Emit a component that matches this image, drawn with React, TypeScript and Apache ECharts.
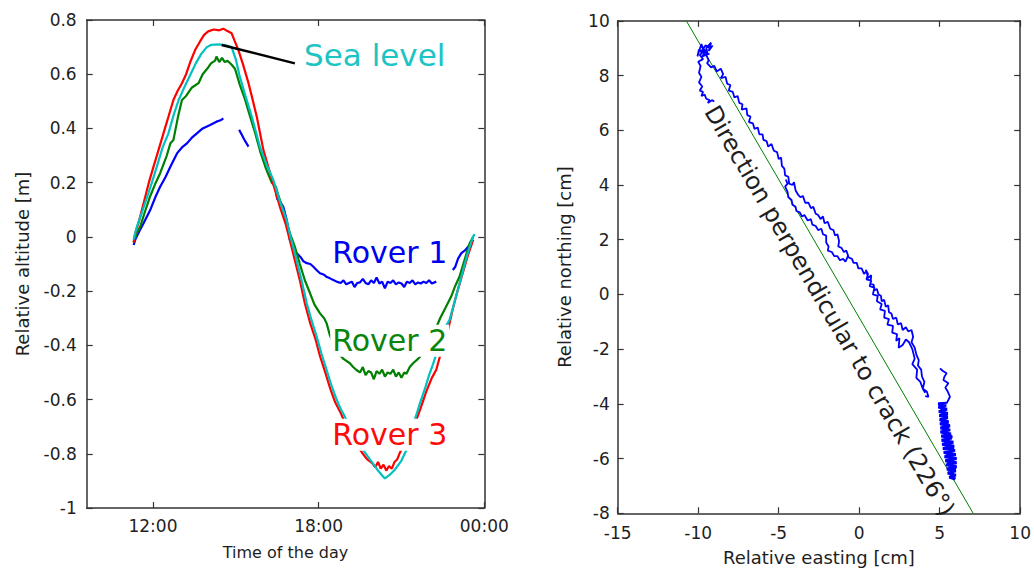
import React, { useEffect, useRef } from "react";
import * as echarts from "echarts";

// ---------- Left panel: relative altitude vs time of day (hours) ----------
const timeTicks = [12, 18, 24];
const altitudeRange = [-1, 0.8];

const seaLevel: (number[] | null)[] = [
  [11.3, -0.01], [11.42, 0.038], [11.6, 0.09], [11.8, 0.15], [11.96, 0.2], [12.14, 0.259], [12.35, 0.33],
  [12.56, 0.382], [12.75, 0.45], [12.93, 0.505], [13.15, 0.555], [13.35, 0.597], [13.55, 0.64], [13.75, 0.675],
  [13.95, 0.7], [14.1, 0.708], [14.4, 0.71], [14.67, 0.706], [14.85, 0.7], [15.0, 0.655], [15.13, 0.597],
  [15.35, 0.52], [15.58, 0.443], [15.88, 0.33], [16.1, 0.27], [16.36, 0.21], [16.6, 0.13], [16.84, 0.062],
  [16.98, 0.0], [17.14, -0.06], [17.38, -0.159], [17.57, -0.245], [17.75, -0.31], [17.93, -0.368], [18.1, -0.43],
  [18.29, -0.491], [18.47, -0.55], [18.65, -0.6], [18.8, -0.635], [18.95, -0.663], [19.2, -0.72], [19.4, -0.76],
  [19.61, -0.786], [19.85, -0.82], [20.1, -0.855], [20.3, -0.88], [20.4, -0.891], [20.55, -0.88], [20.75, -0.86],
  [21.0, -0.825], [21.18, -0.786], [21.33, -0.73], [21.48, -0.675], [21.65, -0.62], [21.85, -0.56], [22.0, -0.51],
  [22.14, -0.47], [22.4, -0.39], [22.6, -0.33], [22.74, -0.307], [22.95, -0.23], [23.17, -0.147], [23.4, -0.06],
  [23.59, 0.0], [23.65, 0.01],
];

const rover3: (number[] | null)[] = [
  [11.3, -0.02], [11.35, 0.01], [11.5, 0.06], [11.7, 0.14], [11.85, 0.2], [12.02, 0.259], [12.2, 0.32],
  [12.38, 0.382], [12.56, 0.443], [12.74, 0.505], [12.9, 0.54], [13.05, 0.567], [13.2, 0.6], [13.35, 0.645],
  [13.53, 0.69], [13.7, 0.72], [13.85, 0.745], [14.0, 0.758], [14.2, 0.765], [14.4, 0.762], [14.55, 0.768],
  [14.68, 0.76], [14.85, 0.751], [14.95, 0.725], [15.09, 0.69], [15.25, 0.64], [15.46, 0.567], [15.6, 0.51],
  [15.76, 0.443], [16.0, 0.32], [16.2, 0.25], [16.4, 0.18], [16.6, 0.11], [16.8, 0.05], [16.95, -0.01],
  [17.1, -0.07], [17.32, -0.16], [17.5, -0.245], [17.7, -0.32], [17.88, -0.375], [18.05, -0.44], [18.24, -0.5],
  [18.42, -0.56], [18.6, -0.61], [18.8, -0.65], [18.93, -0.68], [19.2, -0.73], [19.4, -0.77], [19.58, -0.797],
  [19.75, -0.82], [19.95, -0.835], [20.05, -0.85], [20.15, -0.83], [20.25, -0.855], [20.35, -0.84], [20.45, -0.862],
  [20.55, -0.845], [20.65, -0.855], [20.75, -0.83], [20.85, -0.82], [20.94, -0.797], [21.1, -0.76], [21.3, -0.72],
  [21.54, -0.675], [21.7, -0.63], [21.9, -0.57], [22.1, -0.52], [22.26, -0.49], [22.45, -0.42], [22.65, -0.36],
  [22.85, -0.27], [23.0, -0.21], [23.2, -0.14], [23.4, -0.07], [23.6, -0.01],
];

const rover2: (number[] | null)[] = [
  [11.3, -0.02], [11.4, 0.01], [11.54, 0.038], [11.7, 0.09], [11.9, 0.15], [12.1, 0.2], [12.26, 0.235],
  [12.5, 0.3], [12.63, 0.345], [12.74, 0.357], [12.9, 0.44], [13.05, 0.505], [13.2, 0.52], [13.4, 0.55],
  [13.65, 0.567], [13.8, 0.6], [14.0, 0.625], [14.1, 0.64], [14.25, 0.65], [14.3, 0.665], [14.4, 0.645],
  [14.5, 0.66], [14.6, 0.645], [14.7, 0.65], [14.85, 0.635], [14.97, 0.62], [15.15, 0.56], [15.34, 0.505],
  [15.5, 0.45], [15.7, 0.383], [15.9, 0.31], [16.1, 0.25], [16.3, 0.2], [16.45, 0.185], [16.55, 0.15],
  [16.72, 0.099], [16.96, 0.013], [17.15, -0.04], [17.32, -0.1], [17.5, -0.16], [17.69, -0.208], [17.85, -0.25],
  [18.05, -0.282], [18.2, -0.3], [18.29, -0.319], [18.4, -0.36], [18.55, -0.4], [18.71, -0.429], [18.9, -0.45],
  [19.13, -0.466], [19.25, -0.48], [19.37, -0.491], [19.5, -0.5], [19.6, -0.48], [19.7, -0.51], [19.8, -0.495],
  [19.9, -0.5], [20.0, -0.525], [20.1, -0.495], [20.2, -0.505], [20.3, -0.49], [20.4, -0.515], [20.5, -0.5],
  [20.6, -0.505], [20.7, -0.49], [20.8, -0.515], [20.9, -0.5], [21.0, -0.52], [21.1, -0.5], [21.18, -0.505],
  [21.3, -0.48], [21.42, -0.466], [21.6, -0.45], [21.78, -0.429], [21.9, -0.41], [22.02, -0.392], [22.2, -0.35],
  [22.4, -0.3], [22.6, -0.26], [22.8, -0.22], [22.95, -0.18], [23.1, -0.147], [23.3, -0.08], [23.47, -0.024],
  [23.6, 0.0],
];

const rover1: (number[] | null)[] = [
  [11.3, -0.03], [11.36, -0.01], [11.5, 0.02], [11.66, 0.05], [11.9, 0.099], [12.1, 0.15], [12.26, 0.185],
  [12.45, 0.22], [12.63, 0.259], [12.87, 0.308], [13.05, 0.33], [13.23, 0.345], [13.4, 0.365], [13.59, 0.382],
  [13.8, 0.4], [14.07, 0.413], [14.3, 0.425], [14.45, 0.43], [14.55, 0.437], null,
  [15.12, 0.395], [15.2, 0.38], [15.3, 0.36], [15.46, 0.333], null,
  [16.45, 0.17], [16.5, 0.14], [16.6, 0.13], [16.72, 0.111], [16.85, 0.06], [16.96, -0.011], [17.05, -0.03],
  [17.2, -0.06], [17.35, -0.075], [17.45, -0.09], [17.57, -0.097], [17.7, -0.1], [17.81, -0.11], [17.95, -0.125],
  [18.05, -0.134], [18.2, -0.14], [18.3, -0.148], [18.41, -0.153], [18.55, -0.16], [18.65, -0.165], [18.8, -0.17],
  [18.9, -0.16], [19.0, -0.175], [19.1, -0.17], [19.2, -0.165], [19.3, -0.185], [19.4, -0.17], [19.5, -0.168],
  [19.6, -0.155], [19.7, -0.17], [19.8, -0.175], [19.9, -0.16], [20.0, -0.17], [20.1, -0.15], [20.2, -0.172],
  [20.3, -0.165], [20.4, -0.19], [20.5, -0.165], [20.6, -0.17], [20.7, -0.16], [20.8, -0.175], [20.9, -0.168],
  [21.0, -0.172], [21.1, -0.185], [21.2, -0.165], [21.3, -0.17], [21.4, -0.16], [21.5, -0.175], [21.6, -0.168],
  [21.7, -0.172], [21.8, -0.165], [21.9, -0.17], [22.0, -0.16], [22.1, -0.172], [22.26, -0.165], null,
  [22.86, -0.122], [22.95, -0.11], [23.05, -0.08], [23.17, -0.06], [23.3, -0.05], [23.47, -0.03],
];

const seaLevelPointer = [[14.49, 0.708], [17.14, 0.64]];

const leftLabels = [
  { text: "Sea level", at: [17.4, 0.672], color: "#1cc4c4", size: 31, bg: false },
  { text: "Rover 1", at: [18.42, -0.059], color: "#0000f0", size: 30, bg: false },
  { text: "Rover 2", at: [18.42, -0.383], color: "#0a840a", size: 30, bg: true },
  { text: "Rover 3", at: [18.42, -0.73], color: "#ff0a0a", size: 30, bg: true },
];

// ---------- Right panel: horizontal displacement ----------
const eastingRange = [-15, 10];
const northingRange = [-8, 10];
const crackDirection = [[-10.74, 10], [7.08, -8]];
const crackLabel = { text: "Direction perpendicular to crack (226°)", at: [-1.85, -0.6] };

const track: (number[] | null)[] = [
  // top cluster and lower-left branch
  [-9.1, 9.1], [-9.35, 8.9], [-9.2, 9.2], [-9.5, 9.0], [-9.4, 8.75], [-9.75, 9.05], [-9.6, 8.8], [-9.95, 8.95],
  [-10.05, 8.7], [-9.8, 9.15], [-9.65, 8.9], [-9.9, 8.75], [-9.7, 8.6], [-10.0, 8.5], [-9.85, 8.35], [-9.95, 8.1],
  [-9.8, 7.95], [-9.95, 7.75], [-9.75, 7.6], [-9.9, 7.45], [-9.7, 7.4], [-9.8, 7.25], [-9.6, 7.3], [-9.5, 7.15],
  [-9.3, 7.1], [-9.4, 7.0], [-9.15, 7.1], [-9.0, 7.05], null,
  [-9.2, 9.0], [-9.55, 9.1], [-9.85, 8.85], [-9.45, 8.95], [-9.75, 8.7], [-9.3, 8.8], null,
  // upper track
  [-9.5, 8.75], [-9.35, 8.55], [-9.45, 8.45], [-9.2, 8.3], [-9.0, 8.35], [-8.85, 8.15], [-8.6, 8.25], [-8.45, 8.05],
  [-8.6, 7.9], [-8.3, 7.95], [-8.2, 7.7], [-8.0, 7.65], [-8.1, 7.45], [-7.85, 7.4], [-7.75, 7.2], [-7.55, 7.25],
  [-7.45, 7.0], [-7.25, 6.95], [-7.3, 6.75], [-7.0, 6.8], [-6.95, 6.55], [-6.75, 6.5], [-6.85, 6.3], [-6.6, 6.25],
  [-6.5, 6.05], [-6.3, 6.1], [-6.2, 5.85], [-6.0, 5.85], [-5.95, 5.65], [-5.75, 5.6], [-5.65, 5.4], [-5.45, 5.5],
  [-5.3, 5.25], [-5.1, 5.2], [-5.0, 4.95], [-4.85, 5.0], [-4.8, 4.7], [-4.65, 4.6], [-4.6, 4.35], [-4.4, 4.3],
  [-4.35, 4.05], [-4.15, 4.0], [-4.05, 4.1], [-3.95, 3.8], [-3.8, 3.65], [-3.65, 3.55], [-3.5, 3.6], [-3.35, 3.35],
  [-3.15, 3.35], [-3.0, 3.15], [-2.85, 3.2], [-2.7, 2.95], [-2.55, 2.9], [-2.4, 2.75], [-2.25, 2.85], [-2.15, 2.6],
  [-1.95, 2.65], [-1.8, 2.4], [-1.6, 2.35], [-1.5, 2.15], [-1.35, 2.2], [-1.25, 1.95], [-1.3, 1.75], [-1.1, 1.7],
  [-0.95, 1.55], [-0.8, 1.6], [-0.65, 1.35], [-0.45, 1.3], [-0.35, 1.15], [-0.15, 1.15], [-0.05, 0.95], [0.15, 0.95],
  [0.3, 0.75], [0.45, 0.85], [0.55, 0.6], [0.75, 0.7], [0.7, 0.4], [0.9, 0.35], [0.95, 0.15], [1.1, 0.2],
  [1.2, 0.0], [1.35, -0.05], [1.4, -0.25], [1.55, -0.2], [1.65, -0.45], [1.8, -0.4], [1.85, -0.65], [2.0, -0.7],
  [2.1, -0.9], [2.3, -0.85], [2.4, -1.1], [2.6, -1.05], [2.7, -1.3], [2.9, -1.2], [3.05, -1.35], [3.25, -1.3],
  [3.35, -1.55], [3.25, -1.75], [3.45, -1.95], [3.55, -2.2], [3.7, -2.4], [3.65, -2.6], [3.85, -2.75], [3.9, -3.0],
  [4.05, -3.2], [3.95, -3.45], [4.2, -3.55], [4.3, -3.74], [4.1, -3.72], null,
  // lower loop
  [-4.56, 4.2], [-4.45, 4.05], [-4.6, 3.94], [-4.45, 3.75], [-4.4, 3.55], [-4.2, 3.45], [-4.15, 3.28], [-3.95, 3.2],
  [-3.9, 3.05], [-3.7, 3.0], [-3.55, 2.85], [-3.4, 2.9], [-3.2, 2.7], [-3.0, 2.75], [-2.91, 2.55], [-2.7, 2.5],
  [-2.55, 2.35], [-2.35, 2.4], [-2.25, 2.2], [-2.05, 2.15], [-2.05, 1.9], [-1.9, 1.75], [-1.95, 1.6], [-1.7, 1.55],
  [-1.55, 1.4], [-1.35, 1.4], [-1.2, 1.25], [-1.0, 1.3], [-0.85, 1.2], [-0.7, 1.4], null,
  // jittery band
  [0.4, 0.9], [0.55, 0.75], [0.45, 0.55], [0.75, 0.5], [0.65, 0.3], [0.95, 0.25], [0.85, 0.0], [1.15, -0.05],
  [1.1, -0.25], [1.4, -0.35], [1.3, -0.55], [1.6, -0.6], [1.55, -0.85], [1.85, -0.9], [1.75, -1.1], [2.1, -1.15],
  [2.05, -1.4], [2.35, -1.45], [2.3, -1.7], [2.5, -1.6], [2.45, -1.95], [2.7, -1.85], [2.9, -1.65], [3.1, -1.75],
  [3.3, -2.0], [3.45, -2.35], [3.3, -2.55], [3.6, -2.75], [3.55, -3.05], [3.8, -3.2], [3.95, -3.45], [4.1, -3.6], null,
  // thin squiggle
  [5.02, -2.7], [5.2, -2.8], [5.43, -2.88], [5.3, -3.0], [5.23, -3.13], [5.54, -3.25], [5.35, -3.4], [5.5, -3.55],
  [5.64, -3.74], [5.43, -3.98],
];

const trackCluster: number[][] = [
  [5.43, -3.98], [4.9, -4.0], [5.4, -4.05], [4.92, -4.12], [5.45, -4.2], [4.95, -4.28], [5.5, -4.35],
  [4.98, -4.43], [5.5, -4.5], [5.0, -4.58], [5.55, -4.65], [5.02, -4.73], [5.6, -4.8], [5.05, -4.88], [5.65, -4.95],
  [5.05, -5.03], [5.7, -5.1], [5.1, -5.18], [5.75, -5.25], [5.12, -5.33], [5.85, -5.4], [5.15, -5.48], [5.9, -5.55],
  [5.2, -5.63], [5.95, -5.7], [5.25, -5.78], [6.0, -5.85], [5.3, -5.93], [6.05, -6.0], [5.35, -6.08], [6.05, -6.15],
  [5.4, -6.23], [6.05, -6.3], [5.45, -6.38], [6.0, -6.45], [5.5, -6.53], [6.0, -6.6], [5.6, -6.68], [5.95, -6.75],
  [5.7, -6.6], [5.95, -6.4], [5.5, -6.2], [5.9, -6.0], [5.4, -5.8], [5.85, -5.6], [5.3, -5.4], [5.75, -5.2],
  [5.2, -5.0], [5.6, -4.8], [5.1, -4.6], [5.45, -4.4], [5.05, -4.2],
];

const FONT = "DejaVu Sans";
const FRAME = "#333333";
const TXT = "#1e1e1e";

const gaps = (d: (number[] | null)[]) => d.map((p) => (p === null ? [null, null] : p));

function frameAxis(gridIndex: number, position: string, min: number, max: number, extra: any = {}) {
  return {
    type: "value",
    gridIndex,
    position,
    min,
    max,
    axisLine: { show: true, onZero: false, lineStyle: { color: FRAME, width: 1.5 } },
    axisTick: { show: true, inside: true, length: 6, lineStyle: { color: FRAME, width: 1.2 } },
    axisLabel: { show: false },
    splitLine: { show: false },
    ...extra,
  };
}

export default function App() {
  const ref = useRef<HTMLDivElement>(null);

  useEffect(() => {
    if (!ref.current) return;
    const chart = echarts.init(ref.current, null, { renderer: "svg" });

    const tickLabel = { show: true, color: TXT, fontFamily: FONT, fontSize: 17 };
    const timeFmt = (v: number) => (v === 24 ? "00:00" : `${v < 10 ? "0" : ""}${v}:00`);

    const lineSeries = (name: string, data: any, color: string, z: number) => ({
      name,
      type: "line",
      xAxisIndex: 0,
      yAxisIndex: 0,
      data: gaps(data),
      showSymbol: false,
      symbol: "none",
      connectNulls: false,
      lineStyle: { color, width: 2.2 },
      z,
      silent: true,
    });

    const option: any = {
      animation: false,
      backgroundColor: "#ffffff",
      grid: [
        { left: 86.7, top: 20, width: 397.6, height: 488 },
        { left: 617.7, top: 20.8, width: 404.6, height: 492.5 },
      ],
      xAxis: [
        frameAxis(0, "bottom", 9.6, 24, {
          axisTick: { show: true, inside: true, length: 6, customValues: timeTicks, lineStyle: { color: FRAME, width: 1.2 } },
          axisLabel: { ...tickLabel, margin: 9, customValues: timeTicks, formatter: timeFmt },
          name: "Time of the day",
          nameLocation: "middle",
          nameGap: 36,
          nameTextStyle: { color: TXT, fontFamily: FONT, fontSize: 16 },
        }),
        frameAxis(0, "top", 9.6, 24, {
          axisTick: { show: true, inside: true, length: 6, customValues: timeTicks, lineStyle: { color: FRAME, width: 1.2 } },
        }),
        frameAxis(1, "bottom", eastingRange[0], eastingRange[1], {
          interval: 5,
          axisLabel: { ...tickLabel, margin: 11 },
          name: "Relative easting [cm]",
          nameLocation: "middle",
          nameGap: 35,
          nameTextStyle: { color: TXT, fontFamily: FONT, fontSize: 18 },
        }),
        frameAxis(1, "top", eastingRange[0], eastingRange[1], { interval: 5 }),
      ],
      yAxis: [
        frameAxis(0, "left", altitudeRange[0], altitudeRange[1], {
          interval: 0.2,
          axisLabel: { ...tickLabel, margin: 10, formatter: (v: number) => String(Math.round(v * 10) / 10) },
          name: "Relative altitude [m]",
          nameLocation: "middle",
          nameGap: 55,
          nameTextStyle: { color: TXT, fontFamily: FONT, fontSize: 18 },
        }),
        frameAxis(0, "right", altitudeRange[0], altitudeRange[1], { interval: 0.2 }),
        frameAxis(1, "left", northingRange[0], northingRange[1], {
          interval: 2,
          axisLabel: { ...tickLabel, margin: 8 },
          name: "Relative northing [cm]",
          nameLocation: "middle",
          nameGap: 44,
          nameTextStyle: { color: TXT, fontFamily: FONT, fontSize: 18 },
        }),
        frameAxis(1, "right", northingRange[0], northingRange[1], { interval: 2 }),
      ],
      series: [
        lineSeries("Rover 1", rover1, "#0000ff", 3),
        lineSeries("Rover 2", rover2, "#008000", 4),
        lineSeries("Rover 3", rover3, "#ff0000", 5),
        lineSeries("Sea level", seaLevel, "#00c0c0", 6),
        {
          name: "pointer",
          type: "line",
          xAxisIndex: 0,
          yAxisIndex: 0,
          data: seaLevelPointer,
          showSymbol: false,
          symbol: "none",
          lineStyle: { color: "#000000", width: 2.5 },
          z: 7,
          silent: true,
        },
        {
          name: "labels",
          type: "scatter",
          xAxisIndex: 0,
          yAxisIndex: 0,
          symbolSize: 1,
          itemStyle: { color: "rgba(0,0,0,0)", opacity: 1 },
          z: 10,
          silent: true,
          data: leftLabels.map((l) => ({
            value: l.at,
            itemStyle: { color: "rgba(0,0,0,0)", opacity: 1 },
            label: {
              show: true,
              formatter: l.text,
              position: "inside",
              align: "left",
              verticalAlign: "middle",
              color: l.color,
              opacity: 1,
              fontFamily: FONT,
              fontSize: l.size,
              backgroundColor: l.bg ? "#ffffff" : "transparent",
              padding: [1, 2],
            },
          })),
        },
        {
          name: "crack direction",
          type: "line",
          xAxisIndex: 2,
          yAxisIndex: 2,
          data: crackDirection,
          showSymbol: false,
          symbol: "none",
          lineStyle: { color: "#008000", width: 1 },
          z: 3,
          silent: true,
        },
        {
          name: "track",
          type: "line",
          xAxisIndex: 2,
          yAxisIndex: 2,
          data: gaps(track),
          showSymbol: false,
          symbol: "none",
          connectNulls: false,
          lineStyle: { color: "#0000ff", width: 1.8 },
          z: 4,
          silent: true,
        },
        {
          name: "track cluster",
          type: "line",
          xAxisIndex: 2,
          yAxisIndex: 2,
          data: trackCluster,
          showSymbol: false,
          symbol: "none",
          lineStyle: { color: "#0000ff", width: 3 },
          z: 4,
          silent: true,
        },
        {
          name: "crack label",
          type: "scatter",
          xAxisIndex: 2,
          yAxisIndex: 2,
          symbolSize: 1,
          itemStyle: { color: "rgba(0,0,0,0)", opacity: 1 },
          z: 10,
          silent: true,
          data: [
            {
              value: crackLabel.at,
              itemStyle: { color: "rgba(0,0,0,0)", opacity: 1 },
              label: {
                show: true,
                formatter: crackLabel.text,
                position: "inside",
                rotate: -59.7,
                color: "#1e1e1e",
                opacity: 1,
                fontFamily: FONT,
                fontSize: 24,
              },
            },
          ],
        },
      ],
    };

    chart.setOption(option);
    return () => chart.dispose();
  }, []);

  return (
    <div
      ref={ref}
      style={{ position: "absolute", left: 0, top: 0, width: 1034, height: 572, background: "#ffffff" }}
    />
  );
}
